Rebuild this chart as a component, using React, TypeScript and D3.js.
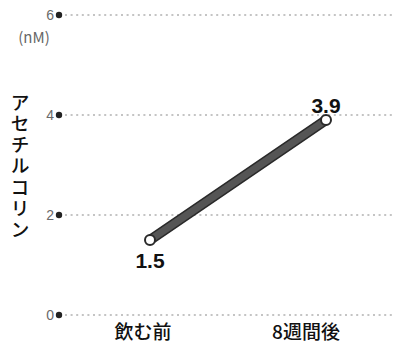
import React from "react";
import * as d3 from "d3";

const categories = ["飲む前", "8週間後"];
const values = [1.5, 3.9];
const yTicks = [0, 2, 4, 6];
const yUnit = "(nM)";
const yTitle = "アセチルコリン";

const W = 393;
const H = 343;

export default function App() {
  const y = d3.scaleLinear().domain([0, 6]).range([315, 15]);
  const x = d3.scalePoint<string>().domain(categories).range([150, 326]);
  const xLabel = d3.scalePoint<string>().domain(categories).range([143, 306]);
  const line = d3
    .line<number>()
    .x((_, i) => x(categories[i]) as number)
    .y((d) => y(d));
  const jp = "'Noto Sans CJK JP', 'Noto Sans', sans-serif";
  const sans = "'Liberation Sans', Arial, sans-serif";
  return (
    <svg
      width={W}
      height={H}
      style={{ position: "absolute", left: 0, top: 0, background: "#fff" }}
    >
      {yTicks.map((t) => (
        <g key={t}>
          <line
            x1={65}
            x2={W}
            y1={y(t)}
            y2={y(t)}
            stroke="#c4c4c4"
            strokeWidth={2}
            strokeDasharray="2 3.6"
          />
          <circle cx={59} cy={y(t)} r={3.2} fill="#222" />
          <text
            x={54}
            y={y(t)}
            dy="0.36em"
            textAnchor="end"
            fontFamily={sans}
            fontSize={14}
            fill="#6a6a6a"
          >
            {t}
          </text>
        </g>
      ))}
      <text x={34} y={43} textAnchor="middle" fontFamily={jp} fontSize={15} fill="#666">
        {yUnit}
      </text>
      <text
        x={20}
        y={93}
        fontFamily={jp}
        fontSize={19}
        fontWeight={500}
        fill="#111"
        style={{ writingMode: "vertical-rl", letterSpacing: "2.2px" }}
      >
        {yTitle}
      </text>
      <path
        d={line(values) as string}
        fill="none"
        stroke="#2a2a2a"
        strokeWidth={10}
        strokeLinecap="round"
      />
      <path
        d={line(values) as string}
        fill="none"
        stroke="#555"
        strokeWidth={7}
        strokeLinecap="round"
      />
      {values.map((v, i) => (
        <g key={i}>
          <circle
            cx={x(categories[i]) as number}
            cy={y(v)}
            r={5}
            fill="#fff"
            stroke="#2a2a2a"
            strokeWidth={2}
          />
          <text
            x={x(categories[i]) as number}
            y={i === 0 ? y(v) + 28 : y(v) - 7}
            textAnchor="middle"
            fontFamily={sans}
            fontWeight={700}
            fontSize={21}
            fill="#111"
          >
            {v.toFixed(1)}
          </text>
        </g>
      ))}
      {categories.map((c) => (
        <text
          key={c}
          x={xLabel(c) as number}
          y={339}
          textAnchor="middle"
          fontFamily={jp}
          fontSize={19}
          fontWeight={500}
          fill="#111"
        >
          {c}
        </text>
      ))}
    </svg>
  );
}
